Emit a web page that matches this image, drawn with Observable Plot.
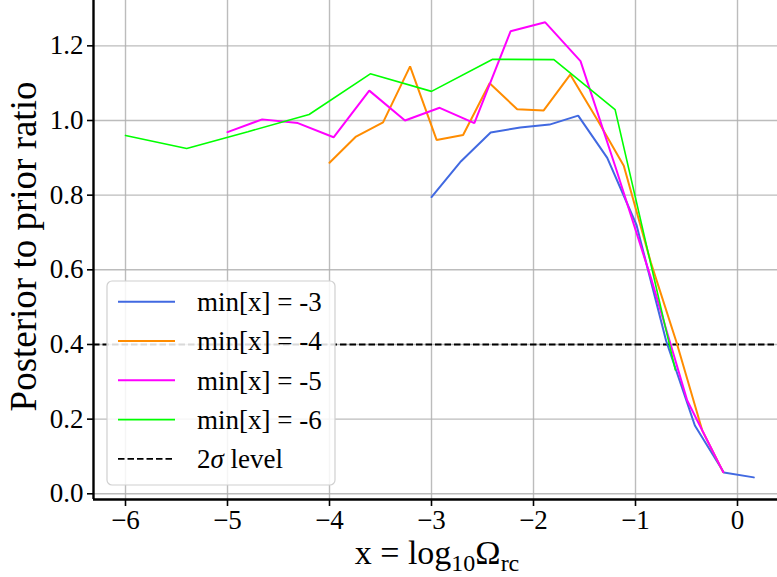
<!DOCTYPE html>
<html>
<head>
<meta charset="utf-8">
<script src="https://cdn.jsdelivr.net/npm/d3@7"></script>
<script src="https://cdn.jsdelivr.net/npm/@observablehq/plot@0.6"></script>
<style>
  html, body { margin: 0; padding: 0; background: #ffffff; }
  #chart svg { display: block; }
  #chart svg text { font-family: "Liberation Serif", "Times New Roman", serif; }
</style>
</head>
<body>
<div id="chart"></div>
<script>
// Tick positions
const xTicks = [-6, -5, -4, -3, -2, -1, 0];
const yTicks = [0, 0.2, 0.4, 0.6, 0.8, 1.0, 1.2];

// Reference level drawn as a dashed rule
const sigmaLevel = 0.4;
const sigmaLabel = ["2", "σ", " level"];

// Posterior-to-prior ratio per prior lower bound min[x]
const minX3  = [-3.0, -2.71, -2.42, -2.13, -1.843, -1.562, -1.277, -0.99, -0.70, -0.418, -0.134, 0.16];
const ratio3 = [0.795, 0.891, 0.968, 0.981, 0.989, 1.013, 0.900, 0.72, 0.41, 0.183, 0.057, 0.044];

const minX4  = [-4.0, -3.74, -3.475, -3.21, -2.95, -2.69, -2.43, -2.16, -1.90, -1.64, -1.37, -1.115, -0.85, -0.598, -0.346, -0.14];
const ratio4 = [0.887, 0.957, 0.995, 1.145, 0.948, 0.961, 1.100, 1.030, 1.027, 1.123, 1.000, 0.879, 0.62, 0.406, 0.17, 0.058];

const minX5  = [-5.0, -4.66, -4.31, -3.96, -3.61, -3.26, -2.92, -2.58, -2.225, -1.885, -1.539, -1.19, -0.845, -0.493, -0.14];
const ratio5 = [0.969, 1.003, 0.993, 0.955, 1.080, 1.000, 1.034, 0.993, 1.239, 1.263, 1.159, 0.87, 0.575, 0.25, 0.058];

const minX6  = [-6.0, -5.4, -4.8, -4.2, -3.6, -3.0, -2.4, -1.8, -1.2, -0.61];
const ratio6 = [0.960, 0.925, 0.970, 1.016, 1.125, 1.078, 1.164, 1.163, 1.029, 0.332];

const seriesLabels = ["min[x] = -3", "min[x] = -4", "min[x] = -5", "min[x] = -6"];
const seriesColors = ["#4169e1", "#ff8c00", "#ff00ff", "#00ff00"];
const seriesWidths = [2, 2, 2, 1.6];

const seriesData = [[minX3, ratio3], [minX4, ratio4], [minX5, ratio5], [minX6, ratio6]]
  .map(([xs, ys], i) => xs.map((x, j) => ({x, y: ys[j], series: seriesLabels[i]})));

// Layout
const W = 777, H = 577;
const mLeft = 93, mRight = 0, mTop = 0, mBottom = 78;
const pxPerX = 102, x0px = 737;          // pixel of x = 0
const pxPerY = 373.3, y0px = 493.3;      // pixel of y = 0
const xDomain = [(mLeft - x0px) / pxPerX, (W - mRight - x0px) / pxPerX];
const yDomain = [(y0px - (H - mBottom)) / pxPerY, (y0px - mTop) / pxPerY];

const font = "'Liberation Serif', 'Times New Roman', serif";
const minus = d => (d < 0 ? "\u2212" + Math.abs(d) : String(d));

const plot = Plot.plot({
  width: W,
  height: H,
  marginLeft: mLeft,
  marginRight: mRight,
  marginTop: mTop,
  marginBottom: mBottom,
  style: `font-family: ${font}; font-size: 27px; background: #ffffff; color: #000000; overflow: visible;`,
  x: {domain: xDomain, label: null},
  y: {domain: yDomain, label: null},
  color: {domain: seriesLabels, range: seriesColors},
  marks: [
    Plot.gridX(xTicks, {stroke: "#b0b0b0", strokeOpacity: 0.85, strokeWidth: 1.4}),
    Plot.gridY(yTicks, {stroke: "#b0b0b0", strokeOpacity: 0.85, strokeWidth: 1.4}),
    Plot.ruleY([sigmaLevel], {stroke: "#000000", strokeWidth: 1.8, strokeDasharray: "6.5,3"}),
    ...seriesData.map((rows, i) =>
      Plot.line(rows, {x: "x", y: "y", stroke: "series", strokeWidth: seriesWidths[i], strokeLinejoin: "miter"})
    ),
    Plot.ruleX([xDomain[0]], {stroke: "#000000", strokeWidth: 2.4}),
    Plot.ruleY([yDomain[0]], {stroke: "#000000", strokeWidth: 2.4}),
    Plot.axisX(xTicks, {tickSize: 7, tickPadding: 3, tickFormat: minus, strokeWidth: 1.6, label: null, fontSize: 27}),
    Plot.axisY(yTicks, {tickSize: 6, tickPadding: 4, tickFormat: d3.format(".1f"), strokeWidth: 1.6, label: null, fontSize: 27})
  ]
});

const svg = d3.select(plot);

// Axis titles
const xTitle = svg.append("text")
  .attr("x", (mLeft + W - mRight) / 2 + 2)
  .attr("y", 564)
  .attr("text-anchor", "middle")
  .style("font-family", font)
  .style("font-size", "34px")
  .attr("fill", "#000000");
xTitle.append("tspan").text("x = log");
xTitle.append("tspan").style("font-size", "24px").attr("dy", 7).text("10");
xTitle.append("tspan").attr("dy", -7).text("Ω");
xTitle.append("tspan").style("font-size", "24px").attr("dy", 7).text("rc");

svg.append("text")
  .attr("transform", `translate(36,${(mTop + H - mBottom) / 2 - 3}) rotate(-90)`)
  .attr("text-anchor", "middle")
  .style("font-family", font)
  .style("font-size", "37px")
  .attr("fill", "#000000")
  .text("Posterior to prior ratio");

// Legend
const legend = svg.append("g");
legend.append("rect")
  .attr("x", 107).attr("y", 281)
  .attr("width", 228).attr("height", 204)
  .attr("rx", 5).attr("ry", 5)
  .attr("fill", "#ffffff").attr("fill-opacity", 0.85)
  .attr("stroke", "#d0d0d0").attr("stroke-width", 1.2);

const legendItems = seriesLabels.map((label, i) => ({label, color: seriesColors[i], width: seriesWidths[i], dash: null}))
  .concat([{label: null, color: "#000000", width: 1.8, dash: "6.5,3"}]);

legendItems.forEach((item, i) => {
  const cy = 301.7 + i * 39.3;
  legend.append("line")
    .attr("x1", 118).attr("x2", 175)
    .attr("y1", cy).attr("y2", cy)
    .attr("stroke", item.color)
    .attr("stroke-width", item.width)
    .attr("stroke-dasharray", item.dash);
  const t = legend.append("text")
    .attr("x", 197).attr("y", cy).attr("dy", "0.35em")
    .attr("text-anchor", "start")
    .style("font-family", font)
    .style("font-size", "27px")
    .attr("fill", "#000000");
  if (item.label) {
    t.text(item.label);
  } else {
    t.append("tspan").text(sigmaLabel[0]);
    t.append("tspan").style("font-style", "italic").text(sigmaLabel[1]);
    t.append("tspan").text(sigmaLabel[2]);
  }
});

document.getElementById("chart").appendChild(plot);
</script>
</body>
</html>
